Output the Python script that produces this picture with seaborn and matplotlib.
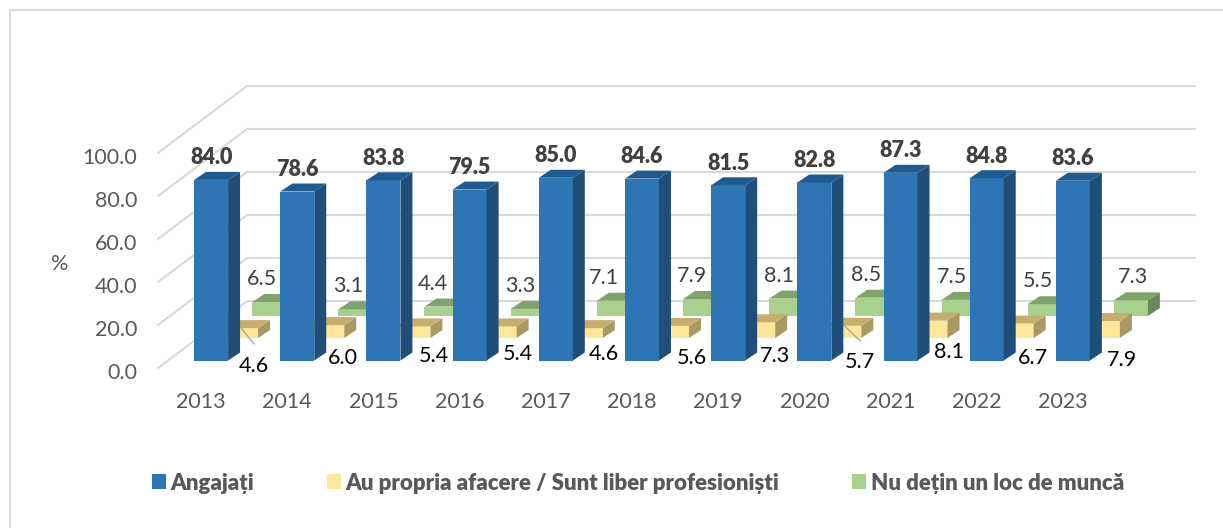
"""
Chart: employment status by year, Excel style 3D columns redone with seaborn.
"""
import matplotlib
matplotlib.use("Agg")
import matplotlib.pyplot as plt
from matplotlib.lines import Line2D
from matplotlib.patches import Patch, Polygon
from matplotlib.transforms import Affine2D, IdentityTransform
import seaborn as sns

# ── Data ─────────────────────────────────────────────────────────────────────
YEARS = ["2013", "2014", "2015", "2016", "2017", "2018", "2019", "2020", "2021", "2022", "2023"]
ANGAJATI = [84.0, 78.6, 83.8, 79.5, 85.0, 84.6, 81.5, 82.8, 87.3, 84.8, 83.6]
AFACERE = [4.6, 6.0, 5.4, 5.4, 4.6, 5.6, 7.3, 5.7, 8.1, 6.7, 7.9]
FARA_LOC = [6.5, 3.1, 4.4, 3.3, 7.1, 7.9, 8.1, 8.5, 7.5, 5.5, 7.3]
Y_TICKS = [0, 20, 40, 60, 80, 100]
SERIES_NAMES = ["Angajați", "Au propria afacere / Sunt liber profesioniști", "Nu dețin un loc de muncă"]

# ── Layout (pixels) ──────────────────────────────────────────────────────────
W, H = 1223, 528
AX_LEFT, AX_RIGHT = 158, 1106
AX_FLOOR, AX_TOP = 368, 153
WALL_DX, WALL_DY = 89, 67      # depth of the chart box
BAR_DX, BAR_DY = 12, 8         # depth of one bar
BAR_WIDTH = 0.394

# label nudges around the bars, the labels were placed by hand in the original
AFACERE_NUDGE_X = [13, 16, 20, 18, 18, 20, 17, 16, 18, 16, 19]
AFACERE_NUDGE_Y = [26, 19, 16, 14, 14, 19, 16, 23, 13, 19, 20]
FARA_LOC_NUDGE_X = [-7, -7, -9, -7, -10, -8, -7, -6, -7, -7, 2]
LEADER_LINES = [0, 7]

BLUE = ("#2E75B6", "#1F5A91", "#1F4E79")
YELLOW = ("#FFE699", "#C8AE6E", "#A99A64")
GREEN = ("#A9D18E", "#7FA36B", "#6B8A5B")
GRID = "#D9D9D9"
TEXT = "#595959"
FONT = "Lato"
SIZE = 15.5

sns.set_theme(style="white")
plt.rcParams["font.family"] = [FONT, "DejaVu Sans"]

fig = plt.figure(figsize=(W / 100, H / 100), dpi=100)
ax = fig.add_axes([AX_LEFT / W, 1 - AX_FLOOR / H, (AX_RIGHT - AX_LEFT) / W, (AX_FLOOR - AX_TOP) / H])


def add_series(values, colors, dx, dy, z):
    """One row of bars, pushed back by dx, dy pixels, with side and top faces."""
    front, top, side = colors
    n_before = len(ax.patches)
    sns.barplot(x=YEARS, y=values, color=front, saturation=1, width=BAR_WIDTH, ax=ax, zorder=z)
    ax.set_xlim(-0.5, 10.5)
    ax.set_ylim(0, 100)
    bars = list(ax.patches[n_before:])
    shift = Affine2D().translate(dx, dy)
    boxes = []
    for bar in bars:
        bar.set_transform(ax.transData + shift)
        bar.set_clip_on(False)
        bar.set_linewidth(0)
        (x0, y0), (x1, y1) = shift.transform(ax.transData.transform(
            [(bar.get_x(), 0), (bar.get_x() + bar.get_width(), bar.get_height())]))
        boxes.append((x0, y0, x1, y1))
        ax.add_patch(Polygon([(x1, y0), (x1 + BAR_DX, y0 + BAR_DY), (x1 + BAR_DX, y1 + BAR_DY), (x1, y1)],
                             closed=True, fc=side, lw=0, zorder=z, clip_on=False,
                             transform=IdentityTransform()))
        ax.add_patch(Polygon([(x0, y1), (x1, y1), (x1 + BAR_DX, y1 + BAR_DY), (x0 + BAR_DX, y1 + BAR_DY)],
                             closed=True, fc=top, lw=0, zorder=z, clip_on=False,
                             transform=IdentityTransform()))
    return boxes


def px_text(x, y, s, **kw):
    return ax.text(x, y, s, transform=IdentityTransform(), ha="center", va="center",
                   clip_on=False, zorder=9, **kw)


# ── Bars, back row first ─────────────────────────────────────────────────────
green_boxes = add_series(FARA_LOC, GREEN, 68, 52, 3)
yellow_boxes = add_series(AFACERE, YELLOW, 40, 30, 4)
blue_boxes = add_series(ANGAJATI, BLUE, 10, 7.5, 5)

# ── Walls: gridlines run back along the side, then across the back ───────────
sx = WALL_DX / ((AX_RIGHT - AX_LEFT) / 11)
sy = WALL_DY / ((AX_FLOOR - AX_TOP) / 100)
for v in Y_TICKS:
    ax.plot([-0.5, -0.5 + sx, 10.5 + sx], [v, v + sy, v + sy], color=GRID, lw=1.5,
            clip_on=False, zorder=1, solid_joinstyle="miter")

# ── Axes ─────────────────────────────────────────────────────────────────────
sns.despine(ax=ax, left=True, bottom=True)
ax.set_yticks(Y_TICKS)
ax.set_yticklabels([f"{v:.1f}" for v in Y_TICKS])
ax.tick_params(axis="y", length=0, pad=15, labelsize=SIZE, labelcolor=TEXT)
ax.tick_params(axis="x", length=0, pad=17, labelsize=SIZE, labelcolor=TEXT)
for label in ax.get_yticklabels():
    label.set_transform(label.get_transform() + Affine2D().translate(0, -3))
ax.set_ylabel("%", rotation=0, fontsize=SIZE, color=TEXT, va="center", ha="center")
ax.yaxis.set_label_coords((60 - AX_LEFT) / (AX_RIGHT - AX_LEFT), 0.485)
ax.patch.set_alpha(0)

# ── Data labels ──────────────────────────────────────────────────────────────
for box, v in zip(blue_boxes, ANGAJATI):
    x0, y0, x1, y1 = box
    px_text((x0 + x1) / 2, y1 + BAR_DY + 14, f"{v:.1f}", fontsize=SIZE, fontweight="heavy", color="#404040")

for box, v, nx in zip(green_boxes, FARA_LOC, FARA_LOC_NUDGE_X):
    x0, y0, x1, y1 = box
    px_text((x0 + x1) / 2 + nx, y1 + BAR_DY + 15, f"{v:.1f}", fontsize=SIZE, color="#404040")

for i, (box, v, nx, ny) in enumerate(zip(yellow_boxes, AFACERE, AFACERE_NUDGE_X, AFACERE_NUDGE_Y)):
    x0, y0, x1, y1 = box
    xc = (x0 + x1) / 2
    px_text(xc + nx, y0 - ny - 1.5, f"{v:.1f}", fontsize=SIZE, color="black")
    if i in LEADER_LINES:
        ax.plot([xc, xc + nx], [y1, y0 - ny + 20], color="#A6A6A6", lw=1, clip_on=False, zorder=8,
                transform=IdentityTransform())

# ── Legend ───────────────────────────────────────────────────────────────────
handles = [Patch(fc=c[0], lw=0) for c in (BLUE, YELLOW, GREEN)]
fig.legend(handles, SERIES_NAMES, ncol=3, frameon=False, loc="center left",
           bbox_to_anchor=(152 / W, 1 - 483 / H), borderaxespad=0, borderpad=0,
           handlelength=0.62, handleheight=0.62, handletextpad=0.22, columnspacing=3.27,
           prop={"family": FONT, "weight": "heavy", "size": 16}, labelcolor=TEXT)

# ── Chart frame, left and top edges only ─────────────────────────────────────
fig.add_artist(Line2D([9.5 / W, 9.5 / W, 1], [0, 1 - 10 / H, 1 - 10 / H], color=GRID, lw=1.5))

plt.savefig("out.png", dpi=100)
plt.close()
